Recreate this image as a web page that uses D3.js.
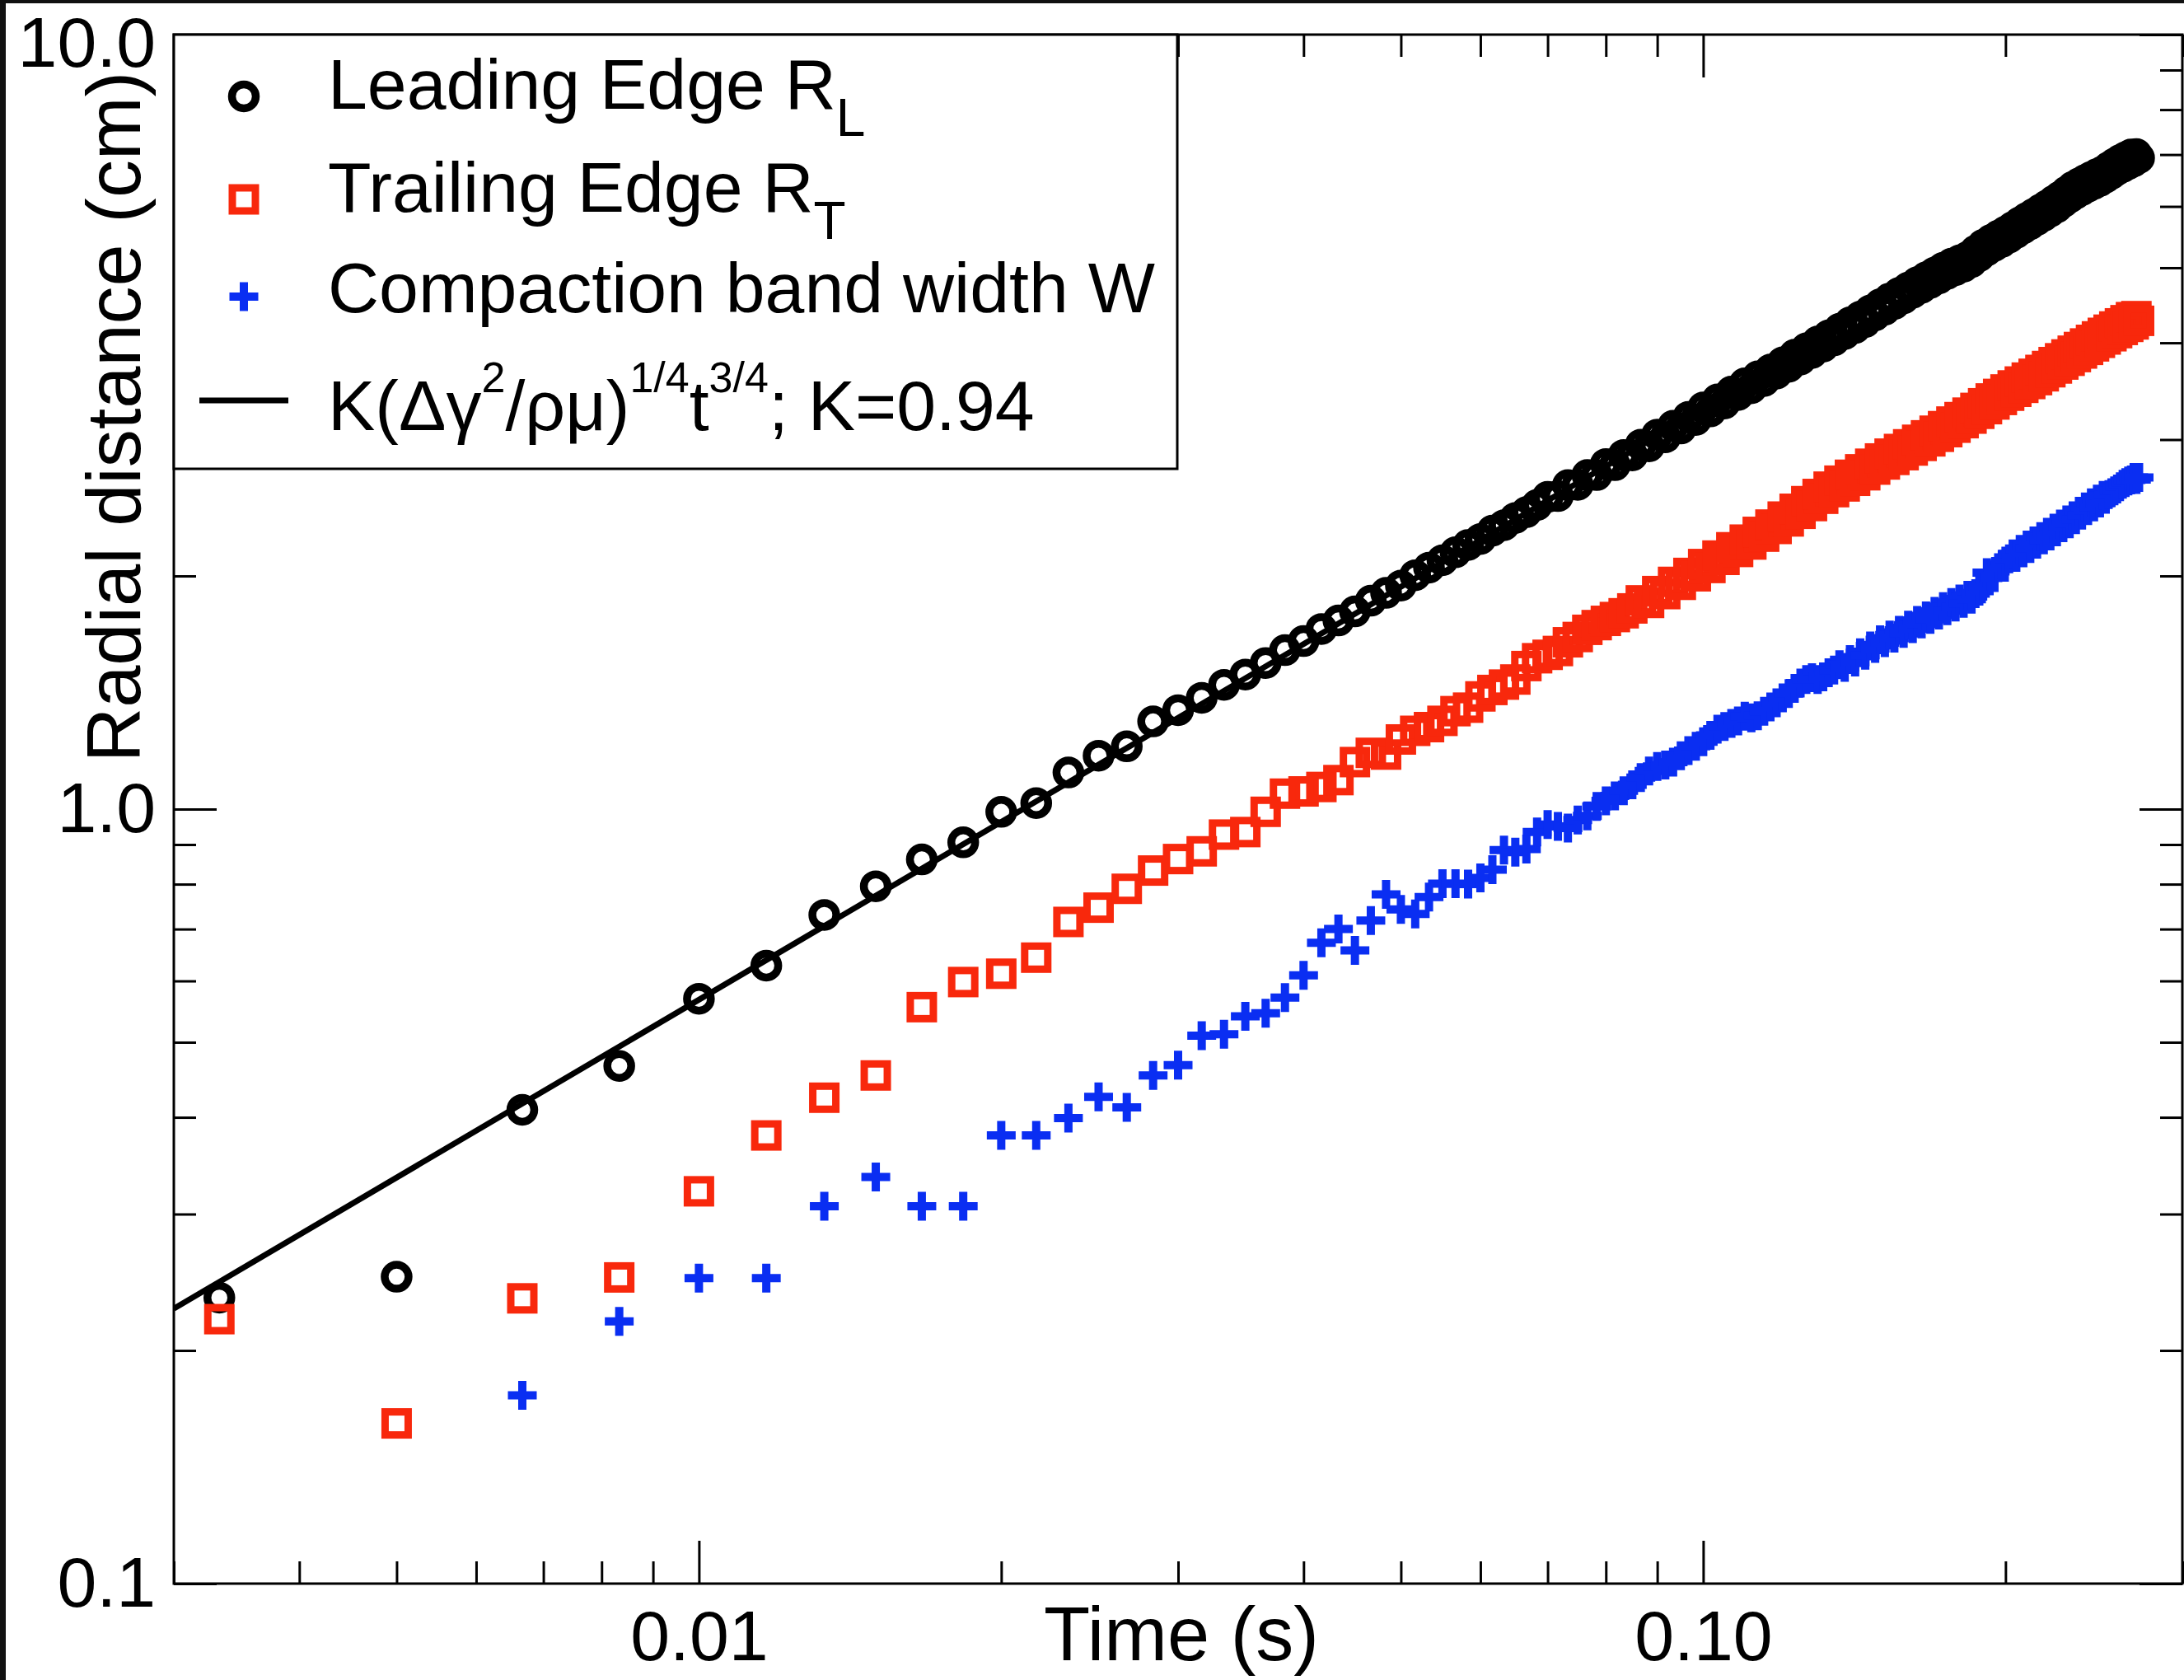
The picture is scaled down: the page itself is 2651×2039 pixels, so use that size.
<!DOCTYPE html>
<html lang="en">
<head>
<meta charset="UTF-8">
<title>Radial distance vs time</title>
<script src="https://d3js.org/d3.v7.min.js"></script>
<style>
  html, body { margin: 0; padding: 0; background: #fff; }
  svg { display: block; }
  text { font-family: "Liberation Sans", Arial, Helvetica, sans-serif; fill: #000; }
</style>
</head>
<body>
<svg id="chart" width="2651" height="2039"></svg>
<script>
// frame times in ms (one point per video frame, frames 2..163)
const timeMs = [
  3.33, 5, 6.67, 8.33, 10, 11.67, 13.33, 15, 16.67, 18.33,
  20, 21.67, 23.33, 25, 26.67, 28.33, 30, 31.67, 33.33, 35,
  36.67, 38.33, 40, 41.67, 43.33, 45, 46.67, 48.33, 50, 51.67,
  53.33, 55, 56.67, 58.33, 60, 61.67, 63.33, 65, 66.67, 68.33,
  70, 71.67, 73.33, 75, 76.67, 78.33, 80, 81.67, 83.33, 85,
  86.67, 88.33, 90, 91.67, 93.33, 95, 96.67, 98.33, 100, 101.67,
  103.33, 105, 106.67, 108.33, 110, 111.67, 113.33, 115, 116.67, 118.33,
  120, 121.67, 123.33, 125, 126.67, 128.33, 130, 131.67, 133.33, 135,
  136.67, 138.33, 140, 141.67, 143.33, 145, 146.67, 148.33, 150, 151.67,
  153.33, 155, 156.67, 158.33, 160, 161.67, 163.33, 165, 166.67, 168.33,
  170, 171.67, 173.33, 175, 176.67, 178.33, 180, 181.67, 183.33, 185,
  186.67, 188.33, 190, 191.67, 193.33, 195, 196.67, 198.33, 200, 201.67,
  203.33, 205, 206.67, 208.33, 210, 211.67, 213.33, 215, 216.67, 218.33,
  220, 221.67, 223.33, 225, 226.67, 228.33, 230, 231.67, 233.33, 235,
  236.67, 238.33, 240, 241.67, 243.33, 245, 246.67, 248.33, 250, 251.67,
  253.33, 255, 256.67, 258.33, 260, 261.67, 263.33, 265, 266.67, 268.33,
  270, 271.67
];

// leading edge R_L (cm)
const leadingEdge = [
  0.234, 0.249, 0.409, 0.466, 0.569, 0.628, 0.730, 0.795, 0.861, 0.906,
  0.992, 1.018, 1.115, 1.172, 1.205, 1.298, 1.342, 1.392, 1.447, 1.492,
  1.544, 1.604, 1.648, 1.708, 1.752, 1.800, 1.858, 1.902, 1.944, 2.004,
  2.050, 2.096, 2.146, 2.193, 2.232, 2.288, 2.326, 2.376, 2.418, 2.470,
  2.530, 2.536, 2.620, 2.622, 2.700, 2.700, 2.790, 2.780, 2.866, 2.862,
  2.955, 2.940, 3.045, 3.020, 3.125, 3.100, 3.210, 3.180, 3.300, 3.262,
  3.380, 3.340, 3.460, 3.425, 3.545, 3.495, 3.620, 3.570, 3.695, 3.650,
  3.775, 3.725, 3.860, 3.805, 3.935, 3.880, 4.015, 3.955, 4.090, 4.030,
  4.170, 4.105, 4.250, 4.180, 4.325, 4.255, 4.405, 4.340, 4.485, 4.415,
  4.565, 4.490, 4.640, 4.565, 4.715, 4.640, 4.790, 4.710, 4.860, 4.780,
  4.930, 4.845, 5.000, 4.910, 5.060, 4.965, 5.110, 5.015, 5.165, 5.085,
  5.260, 5.175, 5.355, 5.265, 5.430, 5.335, 5.500, 5.400, 5.570, 5.470,
  5.645, 5.545, 5.725, 5.620, 5.800, 5.690, 5.870, 5.765, 5.945, 5.835,
  6.020, 5.910, 6.100, 5.985, 6.180, 6.075, 6.270, 6.160, 6.360, 6.235,
  6.425, 6.300, 6.490, 6.360, 6.550, 6.415, 6.605, 6.470, 6.660, 6.540,
  6.740, 6.610, 6.815, 6.690, 6.885, 6.745, 6.945, 6.805, 7.000, 6.860,
  7.010, 6.930
];

// trailing edge R_T (cm)
const trailingEdge = [
  0.2195, 0.161, 0.2335, 0.2485, 0.321, 0.379, 0.424, 0.453, 0.555, 0.598,
  0.613, 0.643, 0.715, 0.746, 0.789, 0.833, 0.862, 0.882, 0.927, 0.934,
  0.992, 1.047, 1.054, 1.068, 1.090, 1.150, 1.182, 1.176, 1.230, 1.262,
  1.276, 1.300, 1.338, 1.352, 1.398, 1.425, 1.448, 1.470, 1.530, 1.566,
  1.582, 1.600, 1.642, 1.668, 1.704, 1.728, 1.750, 1.770, 1.790, 1.816,
  1.860, 1.846, 1.912, 1.895, 1.965, 1.948, 2.018, 1.998, 2.072, 2.048,
  2.125, 2.098, 2.178, 2.148, 2.228, 2.196, 2.280, 2.248, 2.330, 2.300,
  2.386, 2.352, 2.442, 2.406, 2.498, 2.462, 2.552, 2.516, 2.608, 2.566,
  2.655, 2.610, 2.702, 2.654, 2.746, 2.698, 2.792, 2.744, 2.836, 2.786,
  2.877, 2.824, 2.917, 2.864, 2.958, 2.904, 2.998, 2.944, 3.038, 2.984,
  3.080, 3.025, 3.122, 3.067, 3.165, 3.108, 3.207, 3.150, 3.250, 3.193,
  3.296, 3.239, 3.342, 3.284, 3.390, 3.330, 3.436, 3.375, 3.482, 3.418,
  3.524, 3.458, 3.565, 3.499, 3.607, 3.539, 3.648, 3.580, 3.690, 3.621,
  3.733, 3.665, 3.777, 3.706, 3.820, 3.750, 3.864, 3.792, 3.907, 3.834,
  3.950, 3.875, 3.992, 3.917, 4.035, 3.958, 4.077, 4.000, 4.120, 4.040,
  4.159, 4.079, 4.199, 4.117, 4.238, 4.156, 4.278, 4.194, 4.317, 4.225,
  4.330, 4.270
];

// compaction band width W (cm); first two frames fall below the axis
const bandWidth = [
  null, null, 0.175, 0.218, 0.248, 0.248, 0.307, 0.335, 0.307, 0.307,
  0.379, 0.379, 0.399, 0.425, 0.412, 0.453, 0.467, 0.510, 0.512, 0.540,
  0.545, 0.571, 0.610, 0.672, 0.700, 0.657, 0.718, 0.776, 0.742, 0.732,
  0.770, 0.801, 0.801, 0.800, 0.815, 0.835, 0.885, 0.880, 0.888, 0.934,
  0.955, 0.950, 0.945, 0.968, 0.980, 1.008, 1.025, 1.040, 1.056, 1.075,
  1.098, 1.120, 1.135, 1.140, 1.150, 1.172, 1.190, 1.205, 1.222, 1.245,
  1.268, 1.278, 1.290, 1.300, 1.318, 1.312, 1.320, 1.338, 1.355, 1.372,
  1.392, 1.410, 1.432, 1.455, 1.470, 1.478, 1.470, 1.482, 1.500, 1.512,
  1.536, 1.524, 1.560, 1.548, 1.592, 1.580, 1.624, 1.612, 1.654, 1.640,
  1.678, 1.662, 1.702, 1.686, 1.728, 1.710, 1.752, 1.734, 1.776, 1.758,
  1.800, 1.780, 1.826, 1.804, 1.848, 1.824, 1.868, 1.844, 1.888, 1.866,
  1.898, 1.912, 1.940, 2.020, 2.000, 1.990, 2.050, 2.070, 2.090, 2.104,
  2.136, 2.114, 2.164, 2.142, 2.192, 2.170, 2.220, 2.198, 2.248, 2.226,
  2.278, 2.252, 2.306, 2.280, 2.334, 2.308, 2.362, 2.336, 2.392, 2.364,
  2.424, 2.396, 2.456, 2.428, 2.486, 2.456, 2.514, 2.484, 2.542, 2.512,
  2.548, 2.562, 2.576, 2.590, 2.608, 2.626, 2.640, 2.652, 2.660, 2.680,
  2.664, 2.680
];

// fitted power law, end points
const fitTimeMs = [3, 260];
const fitRadius = [0.2265, 6.81];

const xMajorTicks = [0.01, 0.1];
const xMajorLabels = ["0.01", "0.10"];
const xMinorTicks = [0.003, 0.004, 0.005, 0.006, 0.007, 0.008, 0.009,
  0.02, 0.03, 0.04, 0.05, 0.06, 0.07, 0.08, 0.09, 0.2, 0.3];
const yMajorTicks = [0.1, 1, 10];
const yMajorLabels = ["0.1", "1.0", "10.0"];
const yMinorTicks = [0.2, 0.3, 0.4, 0.5, 0.6, 0.7, 0.8, 0.9,
  2, 3, 4, 5, 6, 7, 8, 9];

const red = "#f8280c";
const blue = "#0a2ef2";

const svg = d3.select("#chart");
const plotLeft = 211, plotRight = 2649, plotTop = 42, plotBottom = 1922;

const x = d3.scaleLog().domain([0.003, 0.3]).range([plotLeft, plotRight]);
const y = d3.scaleLog().domain([0.1, 10]).range([plotBottom, plotTop]);

// screenshot edge
svg.append("rect").attr("x", 0).attr("y", 0).attr("width", 2651).attr("height", 4).attr("fill", "#111");
svg.append("rect").attr("x", 0).attr("y", 0).attr("width", 7).attr("height", 2039).attr("fill", "#111");

function styleAxis(g) {
  g.select(".domain").remove();
  g.selectAll(".tick line").attr("stroke", "#000").attr("stroke-width", 3);
  g.selectAll(".tick text")
    .attr("font-size", 86)
    .attr("font-family", "'Liberation Sans', Arial, sans-serif")
    .attr("fill", "#000");
}

// ticks on all four sides, pointing inward
const axes = [
  [d3.axisBottom(x).tickValues(xMinorTicks).tickSize(-27).tickFormat(""), `translate(0,${plotBottom})`],
  [d3.axisBottom(x).tickValues(xMajorTicks).tickSize(-52).tickPadding(32)
      .tickFormat((d, i) => xMajorLabels[i]), `translate(0,${plotBottom})`],
  [d3.axisTop(x).tickValues(xMinorTicks).tickSize(-27).tickFormat(""), `translate(0,${plotTop})`],
  [d3.axisTop(x).tickValues(xMajorTicks).tickSize(-52).tickFormat(""), `translate(0,${plotTop})`],
  [d3.axisLeft(y).tickValues(yMinorTicks).tickSize(-27).tickFormat(""), `translate(${plotLeft},0)`],
  [d3.axisLeft(y).tickValues(yMajorTicks).tickSize(-52).tickPadding(22)
      .tickFormat((d, i) => yMajorLabels[i]), `translate(${plotLeft},0)`],
  [d3.axisRight(y).tickValues(yMinorTicks).tickSize(-27).tickFormat(""), `translate(${plotRight},0)`],
  [d3.axisRight(y).tickValues(yMajorTicks).tickSize(-52).tickFormat(""), `translate(${plotRight},0)`]
];
axes.forEach(([ax, tr]) => {
  const g = svg.append("g").attr("transform", tr).call(ax).call(styleAxis);
  // keep the top label inside the page
  g.selectAll(".tick text").filter(d => d === 10).attr("dy", "0.45em");
});

// frame
svg.append("rect")
  .attr("x", plotLeft).attr("y", plotTop)
  .attr("width", plotRight - plotLeft).attr("height", plotBottom - plotTop)
  .attr("fill", "none").attr("stroke", "#000").attr("stroke-width", 3);

// axis titles
svg.append("text")
  .attr("x", 1434).attr("y", 2015)
  .attr("text-anchor", "middle").attr("font-size", 92)
  .text("Time (s)");
svg.append("text")
  .attr("transform", "translate(170,506) rotate(-90)")
  .attr("text-anchor", "middle").attr("font-size", 92)
  .text("Radial distance (cm)");

// data
svg.append("defs").append("clipPath").attr("id", "plotClip")
  .append("rect").attr("x", plotLeft).attr("y", plotTop)
  .attr("width", plotRight - plotLeft).attr("height", plotBottom - plotTop);

const plot = svg.append("g").attr("clip-path", "url(#plotClip)");

const leadPts = timeMs.map((t, i) => ({ t: t / 1000, r: leadingEdge[i] }));
const trailPts = timeMs.map((t, i) => ({ t: t / 1000, r: trailingEdge[i] }));
const widthPts = timeMs.map((t, i) => ({ t: t / 1000, r: bandWidth[i] })).filter(d => d.r != null);

const circleR = 14.5, circleW = 9.5, sq = 28, sqW = 9, plusArm = 17.5, plusW = 10;

plot.append("g").selectAll("circle").data(leadPts).join("circle")
  .attr("cx", d => x(d.t)).attr("cy", d => y(d.r)).attr("r", circleR)
  .attr("fill", "none").attr("stroke", "#000").attr("stroke-width", circleW);

plot.append("g").selectAll("rect").data(trailPts).join("rect")
  .attr("x", d => x(d.t) - sq / 2).attr("y", d => y(d.r) - sq / 2)
  .attr("width", sq).attr("height", sq)
  .attr("fill", "none").attr("stroke", red).attr("stroke-width", sqW);

const plusPath = `M${-plusArm},0H${plusArm}M0,${-plusArm}V${plusArm}`;
plot.append("g").selectAll("path").data(widthPts).join("path")
  .attr("transform", d => `translate(${x(d.t)},${y(d.r)})`)
  .attr("d", plusPath)
  .attr("fill", "none").attr("stroke", blue).attr("stroke-width", plusW);

const fitLine = d3.line().x(d => x(d[0] / 1000)).y(d => y(d[1]));
plot.append("path")
  .datum(d3.zip(fitTimeMs, fitRadius))
  .attr("d", fitLine)
  .attr("fill", "none").attr("stroke", "#000").attr("stroke-width", 7);

// legend
const legend = svg.append("g");
legend.append("rect")
  .attr("x", plotLeft).attr("y", plotTop).attr("width", 1429 - plotLeft).attr("height", 569 - plotTop)
  .attr("fill", "#fff").attr("stroke", "#000").attr("stroke-width", 3);

const lx = 296, tx = 398, fs = 86, subFs = 64, supFs = 52;
legend.append("circle").attr("cx", lx).attr("cy", 117).attr("r", circleR)
  .attr("fill", "none").attr("stroke", "#000").attr("stroke-width", circleW);
legend.append("rect").attr("x", lx - sq / 2).attr("y", 242 - sq / 2).attr("width", sq).attr("height", sq)
  .attr("fill", "none").attr("stroke", red).attr("stroke-width", sqW);
legend.append("path").attr("transform", `translate(${lx},360)`).attr("d", plusPath)
  .attr("fill", "none").attr("stroke", blue).attr("stroke-width", plusW);
legend.append("line").attr("x1", 242).attr("x2", 350).attr("y1", 486).attr("y2", 486)
  .attr("stroke", "#000").attr("stroke-width", 7);

function legendText(yb, parts) {
  const t = legend.append("text").attr("x", tx).attr("y", yb).attr("font-size", fs);
  parts.forEach(([str, kind]) => {
    const s = t.append("tspan").text(str);
    if (kind === "sub") s.attr("font-size", subFs).attr("dy", 33);
    if (kind === "sup") s.attr("font-size", supFs).attr("dy", -46);
    if (kind === "back") s.attr("dy", 46);
  });
}
legendText(132, [["Leading Edge R"], ["L", "sub"]]);
legendText(257, [["Trailing Edge R"], ["T", "sub"]]);
legendText(379, [["Compaction band width W"]]);
legendText(522, [["K(\u0394\u03b3"], ["2", "sup"], ["/\u03c1\u03bc)", "back"], ["1/4", "sup"],
  ["t", "back"], ["3/4", "sup"], ["; K=0.94", "back"]]);
</script>
</body>
</html>
